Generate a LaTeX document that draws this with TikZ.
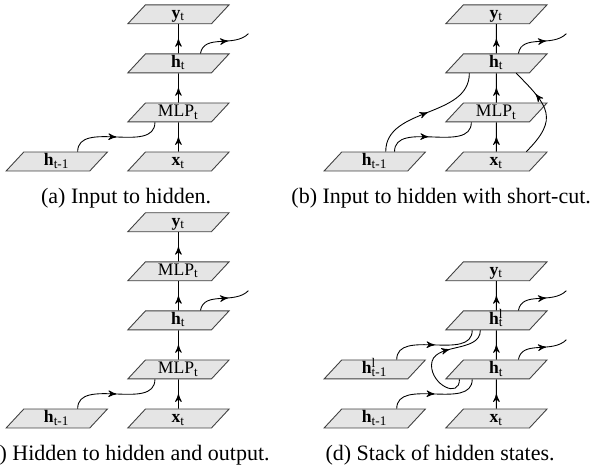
\documentclass[tikz,border=0pt]{standalone}
\usepackage{fontspec}
\setmainfont{Liberation Serif}
\usepackage{tikz}
\usetikzlibrary{arrows,shapes.geometric,decorations.markings}

\begin{document}
\begin{tikzpicture}[-,>=stealth',auto,node distance=22.3pt,thin,
                    flow/.style={postaction={decorate},
                      decoration={markings,mark=at position #1 with {\arrow{>}}}},
                    flow/.default=0.5]
  \tikzstyle{layer}=[shape=trapezium,trapezium left angle=45,trapezium right angle=135,
                     trapezium stretches body,minimum width=46pt,minimum height=8.6pt,
                     inner sep=0.5pt,text height=5.5pt,text depth=1.5pt,
                     fill=black!10,draw=black!75,font=\footnotesize]
  \useasboundingbox (0,0) rectangle (269.5pt,214.5pt);

  % (a) input to hidden
  \node[layer] (X1) at (81.1pt,141.1pt) {\textbf{x}\textsubscript{t}};
  \node[layer] (M1) [above of=X1] {MLP\textsubscript{t}};
  \node[layer] (H1) [above of=M1] {\textbf{h}\textsubscript{t}};
  \node[layer] (Y1) [above of=H1] {\textbf{y}\textsubscript{t}};
  \node[layer] (P1) [left of=X1,node distance=55.3pt] {\textbf{h}\textsubscript{t-1}};
  \coordinate (O1) at ([shift={(31.8pt,9pt)}]H1.north);

  \path (X1) edge[flow] (M1)
        (M1) edge[flow] (H1)
        (H1) edge[flow] (Y1)
        ([xshift=9.5pt]P1.north) edge[flow,out=90,in=-90] ([xshift=-10.7pt]M1.south)
        ([xshift=10pt]H1.north) edge[flow=0.6,out=80,in=-135] (O1);
  \node (Ca) at (57.3pt,124.5pt) {(a) Input to hidden.};

  % (b) input to hidden with short-cut
  \node[layer] (X2) at (225.6pt,141.1pt) {\textbf{x}\textsubscript{t}};
  \node[layer] (M2) [above of=X2] {MLP\textsubscript{t}};
  \node[layer] (H2) [above of=M2] {\textbf{h}\textsubscript{t}};
  \node[layer] (Y2) [above of=H2] {\textbf{y}\textsubscript{t}};
  \node[layer] (P2) [left of=X2,node distance=55.3pt] {\textbf{h}\textsubscript{t-1}};
  \coordinate (O2) at ([shift={(31.8pt,9pt)}]H2.north);

  \path (X2) edge[flow] (M2)
        (M2) edge[flow] (H2)
        (H2) edge[flow] (Y2)
        ([xshift=5pt]P2.north) edge[flow,out=90,in=-90] ([xshift=-12.3pt]H2.south)
        ([xshift=9pt]P2.north) edge[flow=0.45,out=90,in=-90] ([xshift=-11.4pt]M2.south)
        ([xshift=13.6pt]X2.north) edge[flow=0.7,out=45,in=-45,looseness=1.5] ([xshift=9pt]H2.south)
        ([xshift=10pt]H2.north) edge[flow=0.6,out=80,in=-135] (O2);
  \node (Cb) at (200.5pt,124.5pt) {(b) Input to hidden with short-cut.};

  % (c) hidden to hidden and output
  \node[layer] (X3) at (81.1pt,24.3pt) {\textbf{x}\textsubscript{t}};
  \node[layer] (M3) [above of=X3] {MLP\textsubscript{t}};
  \node[layer] (H3) [above of=M3] {\textbf{h}\textsubscript{t}};
  \node[layer] (N3) [above of=H3] {MLP\textsubscript{t}};
  \node[layer] (Y3) [above of=N3] {\textbf{y}\textsubscript{t}};
  \node[layer] (P3) [left of=X3,node distance=55.3pt] {\textbf{h}\textsubscript{t-1}};
  \coordinate (O3) at ([shift={(31.8pt,9pt)}]H3.north);

  \path (X3) edge[flow] (M3)
        (M3) edge[flow] (H3)
        (H3) edge[flow] (N3)
        (N3) edge[flow] (Y3)
        ([xshift=9.5pt]P3.north) edge[flow,out=90,in=-90] ([xshift=-10.7pt]M3.south)
        ([xshift=10pt]H3.north) edge[flow=0.6,out=80,in=-135] (O3);
  \node (Cc) at (57.3pt,7.5pt) {(c) Hidden to hidden and output.};

  % (d) stack of hidden states
  \node[layer] (X4) at (225.6pt,24.3pt) {\textbf{x}\textsubscript{t}};
  \node[layer] (H4) [above of=X4] {\textbf{h}\textsubscript{t}};
  \node[layer] (L4) [above of=H4] {\textbf{h}\rlap{\textsuperscript{l}}\textsubscript{t}};
  \node[layer] (Y4) [above of=L4] {\textbf{y}\textsubscript{t}};
  \node[layer] (P4) [left of=X4,node distance=55.3pt] {\textbf{h}\textsubscript{t-1}};
  \node[layer] (Q4) [left of=H4,node distance=55.3pt] {\textbf{h}\rlap{\textsuperscript{l}}\textsubscript{t-1}};
  \coordinate (O4) at ([shift={(31.8pt,9pt)}]H4.north);
  \coordinate (U4) at ([shift={(31.8pt,9pt)}]L4.north);

  \path (X4) edge[flow] (H4)
        (H4) edge[flow] (L4)
        (L4) edge[flow] (Y4)
        ([xshift=10pt]P4.north) edge[flow,out=90,in=-90] ([xshift=-11pt]H4.south)
        ([xshift=10pt]Q4.north) edge[flow,out=90,in=-90] ([xshift=-11pt]L4.south)
        ([xshift=10pt]H4.north) edge[flow=0.6,out=80,in=-135] (O4)
        ([xshift=10pt]L4.north) edge[flow=0.6,out=80,in=-135] (U4);
  \draw[flow=0.65] ([xshift=-16.8pt]H4.south) to[out=-90,in=-90,looseness=1.6] ++(-12.7pt,6.4pt)
        to[out=90,in=-90] ([xshift=-7.3pt]L4.south);
  \node (Cd) at (200pt,7.5pt) {(d) Stack of hidden states.};
\end{tikzpicture}
\end{document}
